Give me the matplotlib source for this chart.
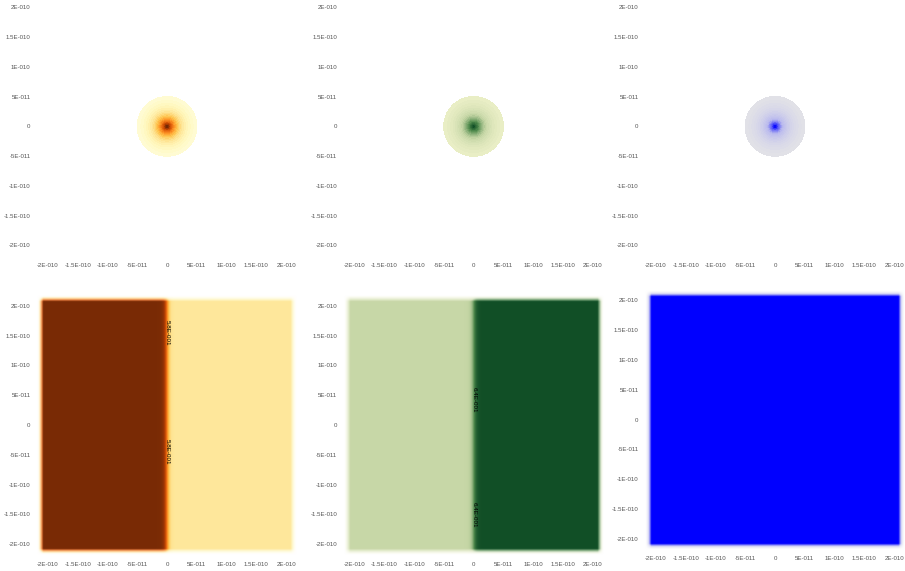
import numpy as np
import matplotlib
matplotlib.use('Agg')
import matplotlib.pyplot as plt
from matplotlib.colors import LinearSegmentedColormap, Normalize, PowerNorm
from matplotlib.ticker import FixedLocator, FuncFormatter

plt.rcParams['font.family'] = ['Liberation Sans', 'DejaVu Sans']

# hydrogen 1s cloud (top row)
bohr_radius = 5.29e-11
density_cutoff = 0.15          # relative density where the cloud stops being drawn
axis_limit = 2.2e-10
tick_values = [-2e-10, -1.5e-10, -1e-10, -5e-11, 0, 5e-11, 1e-10, 1.5e-10, 2e-10]

# half-plane slabs (bottom row), relative values left / right of x = 0
slab_half_width = 2.13e-10
slab_left = [0.95, 0.30, 1.0]
slab_right = [0.22, 0.97, 1.0]
label_heights = [[1.55e-10, -4.5e-11], [4.2e-11, -1.5e-10], []]

olive_green = LinearSegmentedColormap.from_list(
    'olive_green', [(0, '#f1f3cc'), (0.3, '#c7d7a7'), (0.65, '#4f8a4c'), (1, '#0c4a23')])
grey_blue = LinearSegmentedColormap.from_list('grey_blue', ['#e6e6e6', '#b9b9ee', '#0000ff'])
panel_cmaps = [plt.get_cmap('YlOrBr'), olive_green, grey_blue]


def sci_label(v, pos=None):
    if v == 0:
        return '0'
    mant, exp = f'{v:.1E}'.split('E')
    mant = mant.rstrip('0').rstrip('.')
    e = int(exp)
    return f"{mant}E{'-' if e < 0 else '+'}{abs(e):03d}"


def style_axes(ax):
    ax.set_xlim(-axis_limit, axis_limit)
    ax.set_ylim(-axis_limit, axis_limit)
    for s in ax.spines.values():
        s.set_visible(False)
    ax.xaxis.set_major_locator(FixedLocator(tick_values))
    ax.yaxis.set_major_locator(FixedLocator(tick_values))
    ax.xaxis.set_major_formatter(FuncFormatter(sci_label))
    ax.yaxis.set_major_formatter(FuncFormatter(sci_label))
    ax.tick_params(length=0, labelsize=4.4, labelcolor='#555555', pad=4)


fig = plt.figure(figsize=(9.05, 5.71), dpi=100)
fig.patch.set_facecolor('white')

col_left = [0.0398, 0.3786, 0.7116]
width = 0.2895
height = 0.4588
row1_bottom = 0.5492
row2_bottom = [0.0263, 0.0263, 0.0359]

g = np.linspace(-axis_limit, axis_limit, 501)
X, Y = np.meshgrid(g, g)
R = np.hypot(X, Y)
dens = np.exp(-2 * R / bohr_radius)

# soft edge of the slabs
fringe = 1.0e-11
ex = np.clip((slab_half_width - np.abs(X)) / fringe + 0.5, 0, 1)
ey = np.clip((slab_half_width - np.abs(Y)) / fringe + 0.5, 0, 1)
edge = ex * ey
step = 0.5 * (1 - np.tanh(X / 0.5e-11))

for i in range(3):
    cmap = panel_cmaps[i]

    ax = fig.add_axes([col_left[i], row1_bottom, width, height])
    ax.contourf(X, Y, dens, levels=np.linspace(density_cutoff, 1, 22),
                cmap=cmap, norm=PowerNorm(1.6, vmin=0, vmax=1))
    style_axes(ax)

    ax = fig.add_axes([col_left[i], row2_bottom[i], width, height])
    Z = slab_right[i] + (slab_left[i] - slab_right[i]) * step
    rgba = cmap(Normalize(0, 1)(Z * edge))
    rgba[..., 3] = edge
    ax.imshow(rgba, extent=[-axis_limit, axis_limit, -axis_limit, axis_limit],
              origin='lower', interpolation='bilinear', aspect='auto')
    if label_heights[i]:
        mid = 0.5 * (slab_left[i] + slab_right[i])
        cs = ax.contour(X, Y, Z, levels=[mid], colors='none')
        ax.clabel(cs, fmt=sci_label, colors='k', fontsize=4.5, inline=False,
                  manual=[(0, h) for h in label_heights[i]])
    style_axes(ax)

fig.savefig('out.png', dpi=100, facecolor='white')
